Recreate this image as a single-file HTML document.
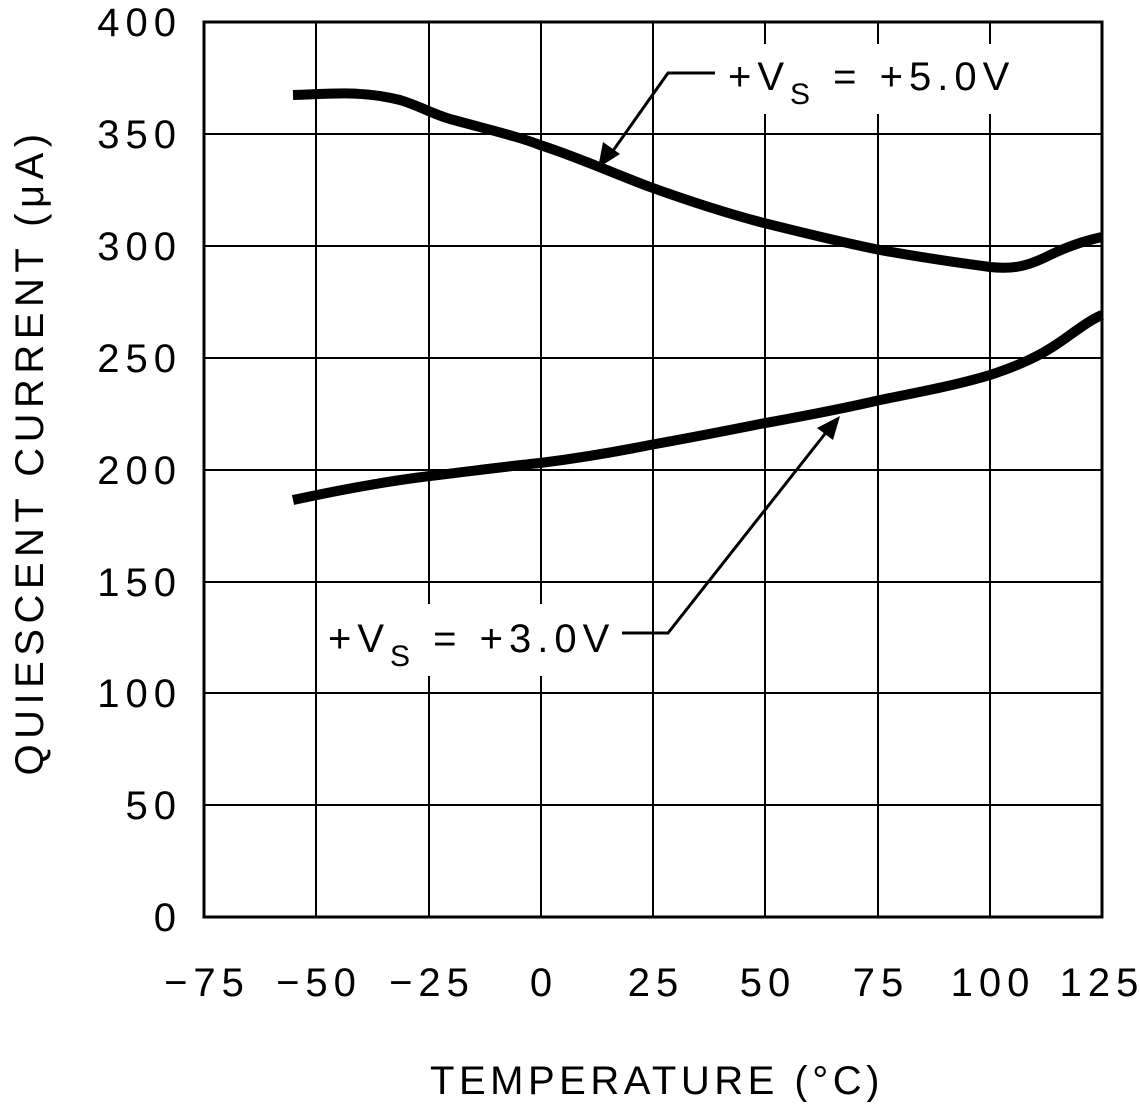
<!DOCTYPE html>
<html><head><style>body{margin:0;background:#fff}</style></head><body>
<svg width="1140" height="1102" viewBox="0 0 1140 1102" xmlns="http://www.w3.org/2000/svg" font-family="Liberation Sans, sans-serif" font-size="40" fill="#000">
<g stroke="#000" stroke-width="2">
<line x1="316" y1="22" x2="316" y2="917"/><line x1="429" y1="22" x2="429" y2="917"/><line x1="541" y1="22" x2="541" y2="917"/><line x1="653" y1="22" x2="653" y2="917"/><line x1="765" y1="22" x2="765" y2="917"/><line x1="878" y1="22" x2="878" y2="917"/><line x1="990" y1="22" x2="990" y2="917"/>
<line x1="204" y1="134" x2="1102" y2="134"/><line x1="204" y1="246" x2="1102" y2="246"/><line x1="204" y1="358" x2="1102" y2="358"/><line x1="204" y1="470" x2="1102" y2="470"/><line x1="204" y1="582" x2="1102" y2="582"/><line x1="204" y1="693" x2="1102" y2="693"/><line x1="204" y1="805" x2="1102" y2="805"/>
</g>
<rect x="204" y="22" width="898" height="895" fill="none" stroke="#000" stroke-width="3"/>
<g fill="none" stroke="#000" stroke-width="10" stroke-linejoin="round">
<path d="M293,95 C330,94 360,90 400,100 C420,106 430,113 450,119 C490,130 520,137 540,145 C580,158 610,172 650,187 C700,205 730,214 760,222 C800,232 840,242 880,250 C930,259 960,263 990,267 C1010,269 1025,268 1050,255 C1075,243 1090,240 1102,237"/>
<path d="M293,500 C330,492 380,482 430,476 C480,470 510,466 540,463 C580,458 620,451 650,445 C700,436 730,430 760,424 C810,415 850,407 880,400 C930,390 960,384 990,375 C1020,365 1040,356 1060,342 C1080,328 1090,320 1102,315"/>
</g>
<rect x="718" y="44" width="304" height="70" fill="#fff"/>
<rect x="320" y="604" width="302" height="72" fill="#fff"/>
<g fill="none" stroke="#000" stroke-width="3">
<path d="M715,73 H668 L610,155"/>
<path d="M622,633 H668 L828,430"/>
</g>
<polygon points="598,168 603,142 620,154"/>
<polygon points="840,416 817,428 833,440"/>
<g letter-spacing="6">
<text x="728" y="90">+V<tspan font-size="30" dy="14">S</tspan><tspan dy="-14"> = +5.0V</tspan></text>
<text x="328" y="652">+V<tspan font-size="30" dy="14">S</tspan><tspan dy="-14"> = +3.0V</tspan></text>
</g>
<g text-anchor="end" letter-spacing="6">
<text x="182" y="36">400</text><text x="182" y="148">350</text><text x="182" y="260">300</text><text x="182" y="372">250</text><text x="182" y="484">200</text><text x="182" y="596">150</text><text x="182" y="707">100</text><text x="182" y="819">50</text><text x="182" y="931">0</text>
</g>
<g text-anchor="middle" letter-spacing="6">
<text x="207" y="996">−75</text><text x="319" y="996">−50</text><text x="432" y="996">−25</text><text x="544" y="996">0</text><text x="656" y="996">25</text><text x="768" y="996">50</text><text x="881" y="996">75</text><text x="993" y="996">100</text><text x="1102" y="996">125</text>
<text x="657" y="1094" letter-spacing="4.5">TEMPERATURE (°C)</text>
<text transform="translate(43,452) rotate(-90)" letter-spacing="5.5">QUIESCENT CURRENT (μA)</text>
</g>
</svg>
</body></html>
